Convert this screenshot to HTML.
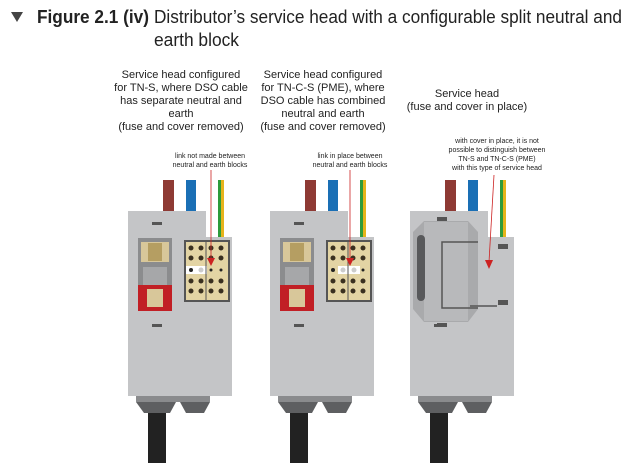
<!DOCTYPE html>
<html><head><style>
body{margin:0;background:#fff;width:640px;height:470px;overflow:hidden}
svg{display:block}
.t{font-family:"Liberation Sans",sans-serif;fill:#222}
</style></head><body>
<svg width="640" height="470" viewBox="0 0 640 470" xmlns="http://www.w3.org/2000/svg">
<polygon points="11,12 23,12 17,22" fill="#444"/>
<text class="t" x="37" y="23" font-size="18" font-weight="bold" fill="#333" textLength="112" lengthAdjust="spacingAndGlyphs">Figure 2.1 (iv)</text>
<text class="t" x="154" y="23" font-size="18" fill="#333" textLength="468" lengthAdjust="spacingAndGlyphs">Distributor’s service head with a configurable split neutral and</text>
<text class="t" x="154" y="46" font-size="18" fill="#333" textLength="85" lengthAdjust="spacingAndGlyphs">earth block</text>

<g class="t" font-size="11" text-anchor="middle">
<text x="181" y="78">Service head configured</text>
<text x="181" y="91">for TN-S, where DSO cable</text>
<text x="181" y="104">has separate neutral and</text>
<text x="181" y="117">earth</text>
<text x="181" y="130">(fuse and cover removed)</text>
<text x="323" y="78">Service head configured</text>
<text x="323" y="91">for TN-C-S (PME), where</text>
<text x="323" y="104">DSO cable has combined</text>
<text x="323" y="117">neutral and earth</text>
<text x="323" y="130">(fuse and cover removed)</text>
<text x="467" y="97">Service head</text>
<text x="467" y="110">(fuse and cover in place)</text>
</g>
<g class="t" font-size="7" text-anchor="middle">
<text x="210" y="158">link not made between</text>
<text x="210" y="167">neutral and earth blocks</text>
<text x="350" y="158">link in place between</text>
<text x="350" y="167">neutral and earth blocks</text>
<text x="497" y="143">with cover in place, it is not</text>
<text x="497" y="152">possible to distinguish between</text>
<text x="497" y="161">TN-S and TN-C-S (PME)</text>
<text x="497" y="170">with this type of service head</text>
</g>

<defs>
<g id="base">
<rect x="35" y="0" width="11" height="32" fill="#8e3a34"/>
<rect x="58" y="0" width="10" height="57" fill="#1a6fb5"/>
<rect x="90" y="0" width="3" height="57" fill="#2e9b3c"/>
<rect x="93" y="0" width="3" height="57" fill="#e6b31b"/>
<polygon points="0,31 78,31 78,57 104,57 104,216 0,216" fill="#c4c5c7"/>
<rect x="24" y="42" width="10" height="3" fill="#555"/>
<rect x="24" y="144" width="10" height="3" fill="#555"/>
<rect x="8" y="216" width="74" height="6" fill="#8a8b8d"/>
<polygon points="8,222 48,222 42,233 16,233" fill="#5e5f61"/>
<polygon points="52,222 82,222 76,233 58,233" fill="#5e5f61"/>
<rect x="20" y="233" width="18" height="50" fill="#222"/>
</g>
<g id="fuse">
<rect x="10" y="58" width="34" height="62" fill="#8b8c8e"/>
<rect x="13" y="62" width="28" height="20" fill="#d8c79a"/>
<rect x="20" y="63" width="14" height="18" fill="#b59e62"/>
<rect x="15" y="87" width="24" height="24" fill="#a6a7a9"/>
<rect x="10" y="105" width="34" height="26" fill="#c11f25"/>
<rect x="19" y="109" width="16" height="18" fill="#d8c79a"/>
<rect x="56" y="60" width="46" height="62" fill="#555"/>
<rect x="58" y="62" width="42" height="58" fill="#e3d4a4"/>
</g>
</defs>

<g transform="translate(128,180)">
<use href="#base"/><use href="#fuse"/>
<g fill="#3a3020">
<circle cx="63" cy="68" r="2.5"/><circle cx="73" cy="68" r="2.5"/><circle cx="83" cy="68" r="2.5"/><circle cx="93" cy="68" r="2.5"/>
<circle cx="63" cy="78" r="2.5"/><circle cx="73" cy="78" r="2.5"/><circle cx="83" cy="78" r="2.5"/><circle cx="93" cy="78" r="2.5"/>
<circle cx="63" cy="101" r="2.5"/><circle cx="73" cy="101" r="2.5"/><circle cx="83" cy="101" r="2.5"/><circle cx="93" cy="101" r="2.5"/>
<circle cx="63" cy="111" r="2.5"/><circle cx="73" cy="111" r="2.5"/><circle cx="83" cy="111" r="2.5"/><circle cx="93" cy="111" r="2.5"/>
</g>
<rect x="58" y="86" width="21" height="8" fill="#fff"/>
<circle cx="63" cy="90" r="2" fill="#222"/><circle cx="73" cy="90" r="2.5" fill="#ccc"/>
<circle cx="83" cy="90" r="1.5" fill="#222"/><circle cx="93" cy="90" r="1.5" fill="#222"/>
<line x1="78" y1="62" x2="78" y2="120" stroke="#555" stroke-width="1"/>
<line x1="83" y1="-10" x2="83" y2="80" stroke="#c22" stroke-width="0.8"/>
<polygon points="79,78 87,78 83,86" fill="#c22"/>
</g>

<g transform="translate(270,180)">
<use href="#base"/><use href="#fuse"/>
<g fill="#3a3020">
<circle cx="63" cy="68" r="2.5"/><circle cx="73" cy="68" r="2.5"/><circle cx="83" cy="68" r="2.5"/><circle cx="93" cy="68" r="2.5"/>
<circle cx="63" cy="78" r="2.5"/><circle cx="73" cy="78" r="2.5"/><circle cx="83" cy="78" r="2.5"/><circle cx="93" cy="78" r="2.5"/>
<circle cx="63" cy="101" r="2.5"/><circle cx="73" cy="101" r="2.5"/><circle cx="83" cy="101" r="2.5"/><circle cx="93" cy="101" r="2.5"/>
<circle cx="63" cy="111" r="2.5"/><circle cx="73" cy="111" r="2.5"/><circle cx="83" cy="111" r="2.5"/><circle cx="93" cy="111" r="2.5"/>
</g>
<rect x="68" y="86" width="22" height="8" fill="#fff"/>
<circle cx="63" cy="90" r="2" fill="#222"/><circle cx="73" cy="90" r="2.5" fill="#ccc"/>
<circle cx="84" cy="90" r="2.5" fill="#ccc"/><circle cx="93" cy="90" r="1.5" fill="#222"/>
<line x1="78" y1="62" x2="78" y2="120" stroke="#555" stroke-width="1"/>
<line x1="80" y1="-10" x2="80" y2="80" stroke="#c22" stroke-width="0.8"/>
<polygon points="76,78 84,78 80,86" fill="#c22"/>
</g>

<g transform="translate(410,180)">
<use href="#base"/>
</g>
<polygon points="413,232 424,221 468,221 478,232 478,309 468,322 424,322 413,309" fill="#a9aaac"/>
<rect x="424" y="222" width="44" height="99" fill="#b8b9bb"/>
<rect x="437" y="217" width="10" height="4" fill="#555"/>
<rect x="437" y="323" width="10" height="4" fill="#555"/>
<rect x="417" y="235" width="8" height="66" rx="4" fill="#58595b"/>
<path d="M478,242 L442,242 L442,308 L478,308" fill="none" stroke="#555" stroke-width="1.5"/>
<line x1="470" y1="306" x2="497" y2="306" stroke="#555" stroke-width="1.5"/>
<rect x="498" y="244" width="10" height="5" fill="#555"/>
<rect x="498" y="300" width="10" height="5" fill="#555"/>
<line x1="494" y1="175" x2="489" y2="262" stroke="#c22" stroke-width="0.8"/>
<polygon points="485,260 493,260 489,269" fill="#c22"/>
</svg>
</body></html>
